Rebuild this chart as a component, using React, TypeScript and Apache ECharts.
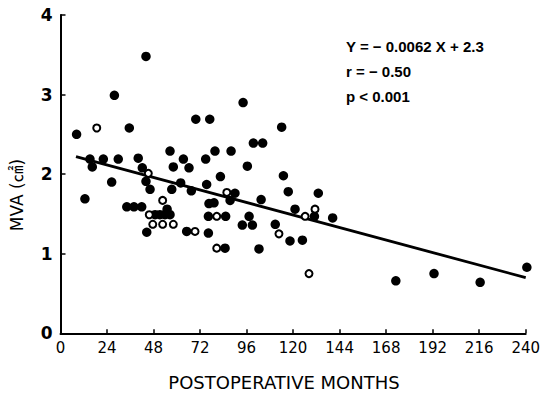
import React, { useEffect, useRef } from "react";
import * as echarts from "echarts";

// Filled circles: [postoperative months, MVA (cm²)]
const filledPoints: [number, number][] = [
  [8.3, 2.5], [12.6, 1.69], [15.2, 2.19], [16.4, 2.09], [22.1, 2.19], [26.4, 1.9],
  [27.8, 2.99], [29.8, 2.19], [34.2, 1.59], [35.5, 2.58], [37.9, 1.59], [40.1, 2.2],
  [41.9, 1.59], [42.2, 2.08], [44.1, 3.48], [44.1, 1.91], [44.5, 1.27], [46.2, 1.81],
  [48.8, 1.49], [51.3, 1.49], [53.9, 1.49], [55.0, 1.56], [56.5, 1.49], [56.5, 2.29],
  [57.4, 1.81], [58.2, 2.09], [62.0, 1.89], [63.4, 2.19], [65.1, 1.28], [66.3, 2.08],
  [67.5, 1.79], [69.8, 2.69], [74.9, 2.19], [75.4, 1.87], [76.3, 1.26], [76.3, 1.47],
  [76.6, 1.63], [77.0, 2.69], [79.2, 1.64], [79.7, 2.29], [82.5, 1.97], [84.9, 1.07],
  [85.2, 1.47], [87.5, 1.67], [88.0, 2.29], [90.0, 1.76], [93.8, 1.36], [94.2, 2.9],
  [96.4, 2.1], [97.3, 1.47], [99.0, 1.36], [99.5, 2.39], [102.4, 1.06], [103.5, 1.68],
  [104.3, 2.39], [110.8, 1.37], [114.1, 2.59], [115.0, 1.98], [117.5, 1.78], [118.4, 1.16],
  [121.0, 1.56], [124.8, 1.17], [131.0, 1.47], [133.0, 1.76], [140.4, 1.45], [173.0, 0.66],
  [192.7, 0.75], [216.5, 0.64], [240.6, 0.83],
];

// Open circles
const openPoints: [number, number][] = [
  [18.7, 2.58], [45.3, 2.01], [52.7, 1.67], [45.8, 1.49], [47.6, 1.37], [52.7, 1.37],
  [58.2, 1.37], [69.4, 1.28], [80.6, 1.47], [80.6, 1.07], [85.8, 1.77], [112.7, 1.25],
  [126.2, 1.47], [131.3, 1.56], [128.2, 0.75],
];

// Regression line endpoints (as drawn)
const regressionX = [8, 240];
const regressionY = [2.22, 0.7];

const xTicks = [0, 24, 48, 72, 96, 120, 144, 168, 192, 216, 240];
const yTicks = [0, 1, 2, 3, 4];

const annotations = ["Y = − 0.0062 X + 2.3", "r = − 0.50", "p < 0.001"];
const xTitle = "POSTOPERATIVE MONTHS";
const yTitle = "MVA (㎠)";

export default function App() {
  const ref = useRef<HTMLDivElement>(null);
  useEffect(() => {
    if (!ref.current) return;
    const chart = echarts.init(ref.current, null, { renderer: "svg" });
    const font = "'Liberation Sans', Arial, sans-serif";
    const dv = "'DejaVu Sans', sans-serif";
    chart.setOption({
      animation: false,
      backgroundColor: "#fff",
      grid: { left: 60.5, right: 19.3, top: 15, bottom: 62.7, containLabel: false },
      xAxis: {
        type: "value",
        min: xTicks[0],
        max: xTicks[xTicks.length - 1],
        interval: 24,
        axisLine: { lineStyle: { color: "#000", width: 2 } },
        axisTick: { inside: true, length: 4, lineStyle: { color: "#000", width: 1.5 } },
        axisLabel: { color: "#000", fontSize: 15, fontFamily: dv, margin: 7 },
        splitLine: { show: false },
      },
      yAxis: {
        type: "value",
        min: yTicks[0],
        max: yTicks[yTicks.length - 1],
        interval: 1,
        axisLine: { show: true, lineStyle: { color: "#000", width: 2 } },
        axisTick: { show: true, inside: true, length: 5, lineStyle: { color: "#000", width: 1.5 } },
        axisLabel: { color: "#000", fontSize: 17, fontFamily: dv, fontWeight: "bold", margin: 8 },
        splitLine: { show: false },
      },
      series: [
        {
          type: "line",
          data: regressionX.map((x, i) => [x, regressionY[i]]),
          symbol: "none",
          lineStyle: { color: "#000", width: 2.8 },
          z: 1,
        },
        {
          type: "scatter",
          data: filledPoints,
          symbol: "circle",
          symbolSize: 9.5,
          clip: false,
          itemStyle: { color: "#000", opacity: 1 },
          z: 2,
        },
        {
          type: "scatter",
          data: openPoints,
          symbol: "circle",
          symbolSize: 7,
          clip: false,
          itemStyle: { color: "#fff", borderColor: "#000", borderWidth: 2, opacity: 1 },
          z: 3,
        },
      ],
      graphic: [
        ...annotations.map((t, i) => ({
          type: "text",
          left: 346,
          top: 39 + i * 25,
          style: { text: t, fill: "#000", fontSize: 15, fontWeight: "bold", fontFamily: font },
        })),
        {
          type: "text",
          x: 284,
          y: 382,
          style: {
            text: xTitle,
            fill: "#000",
            fontSize: 18,
            fontFamily: dv,
            align: "center",
            verticalAlign: "middle",
          },
        },
        {
          type: "text",
          x: 17,
          y: 195,
          rotation: Math.PI / 2,
          style: {
            text: yTitle,
            fill: "#000",
            fontSize: 17,
            fontFamily: "'DejaVu Sans', 'Noto Sans CJK JP', sans-serif",
            align: "center",
            verticalAlign: "middle",
          },
        },
      ],
    });
    return () => chart.dispose();
  }, []);
  return (
    <div
      ref={ref}
      style={{ position: "absolute", left: 0, top: 0, width: 545, height: 396 }}
    />
  );
}
